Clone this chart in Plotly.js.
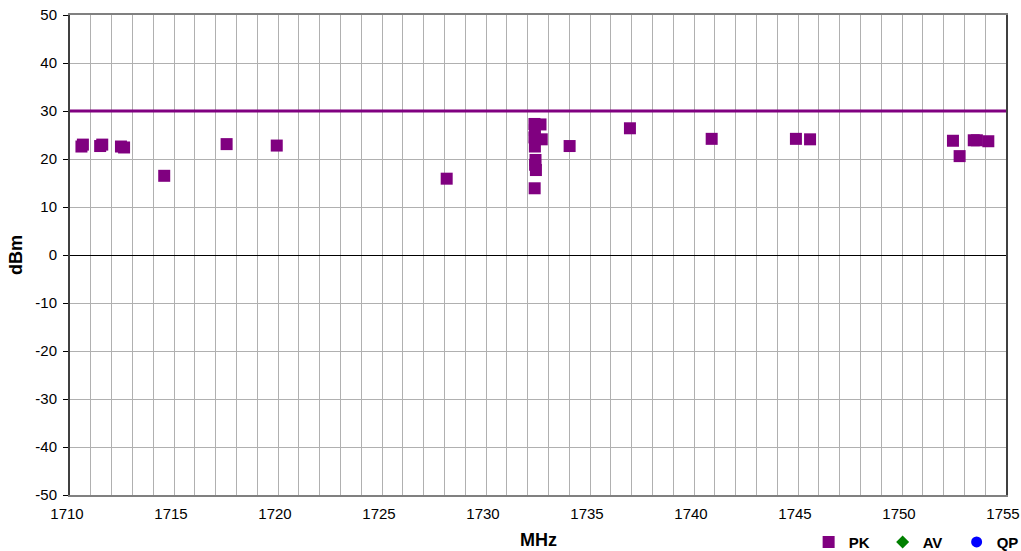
<!DOCTYPE html>
<html>
<head>
<meta charset="utf-8">
<script src="https://cdn.plot.ly/plotly-3.0.1.min.js"></script>
<style>html,body{margin:0;padding:0;background:#fff;}#chart{width:1021px;height:551px;}</style>
</head>
<body>
<div id="chart"></div>
<script>
// PK measurements (MHz, dBm)
const pkFreq = [1710.55, 1710.62, 1711.45, 1711.55, 1712.45, 1712.6, 1714.53, 1717.53, 1719.94,
  1728.11, 1732.33, 1732.35, 1732.33, 1732.35, 1732.38, 1732.36, 1732.4, 1732.34, 1732.62, 1732.68,
  1734.02, 1736.92, 1740.85, 1744.9, 1745.58, 1752.45, 1752.77, 1753.45, 1753.6, 1754.15];
const pkLevel = [22.6, 23.0, 22.7, 23.0, 22.6, 22.4, 16.5, 23.1, 22.8,
  15.9, 27.3, 26.0, 24.5, 22.6, 19.8, 18.8, 17.7, 13.9, 27.2, 24.1,
  22.7, 26.4, 24.2, 24.2, 24.1, 23.8, 20.6, 23.9, 23.9, 23.7];
// empty series shown in legend only
const avFreq = [null], avLevel = [null];
const qpFreq = [null], qpLevel = [null];
// limit line
const limitFreq = [1710, 1755];
const limitLevel = [30, 30];
// y tick labels (hyphen minus as in the original)
const yTickVals = [-50, -40, -30, -20, -10, 0, 10, 20, 30, 40, 50];
const yTickText = ['-50', '-40', '-30', '-20', '-10', '0', '10', '20', '30', '40', '50'];

const traces = [
  {x: limitFreq, y: limitLevel, mode: 'lines', line: {color: '#800080', width: 3}, showlegend: false, hoverinfo: 'skip'},
  {x: pkFreq, y: pkLevel, mode: 'markers', name: 'PK', marker: {symbol: 'square', size: 12, color: '#800080'}},
  {x: avFreq, y: avLevel, mode: 'markers', name: 'AV', marker: {symbol: 'diamond', size: 10, color: '#008000'}},
  {x: qpFreq, y: qpLevel, mode: 'markers', name: 'QP', marker: {symbol: 'circle', size: 11, color: '#0000ff'}}
];

const layout = {
  width: 1021, height: 551,
  margin: {l: 70, r: 15, t: 15, b: 56},
  paper_bgcolor: '#fff', plot_bgcolor: '#fff',
  font: {family: 'Liberation Sans, Arial, sans-serif', size: 15, color: '#000'},
  showlegend: true,
  legend: {orientation: 'h', xref: 'container', yref: 'container', x: 0.792, xanchor: 'left', y: 0.016, yanchor: 'middle',
    entrywidth: 29,
    font: {size: 15, family: 'Liberation Sans, Arial, sans-serif', weight: 'bold'}, bgcolor: 'rgba(0,0,0,0)'},
  xaxis: {
    range: [1710, 1755], dtick: 5, tick0: 1710, ticklabeloverflow: 'allow',
    ticklabelshift: -3, ticklabelstandoff: 4,
    showgrid: true, gridcolor: '#b0b0b0', gridwidth: 1,
    minor: {dtick: 1, showgrid: true, gridcolor: '#b0b0b0', gridwidth: 1},
    showline: true, linecolor: '#808080', linewidth: 2, mirror: true,
    zeroline: false, ticks: ''
  },
  yaxis: {
    range: [-50, 50], tickvals: yTickVals, ticktext: yTickText,
    ticklabelstandoff: 3,
    showgrid: true, gridcolor: '#b0b0b0', gridwidth: 1,
    showline: true, linecolor: '#404040', linewidth: 2, mirror: true,
    zeroline: true, zerolinecolor: '#000', zerolinewidth: 1,
    ticks: 'outside', ticklen: 5, tickcolor: '#000',
    title: {text: '<b>dBm</b>', font: {size: 18}, standoff: 8}
  },
  annotations: [
    {text: '<b>MHz</b>', xref: 'paper', yref: 'paper', x: 0.5, y: -0.094, xanchor: 'center', yanchor: 'middle',
      showarrow: false, font: {size: 18}}
  ]
};

Plotly.newPlot('chart', traces, layout, {displayModeBar: false, staticPlot: true});
</script>
</body>
</html>
